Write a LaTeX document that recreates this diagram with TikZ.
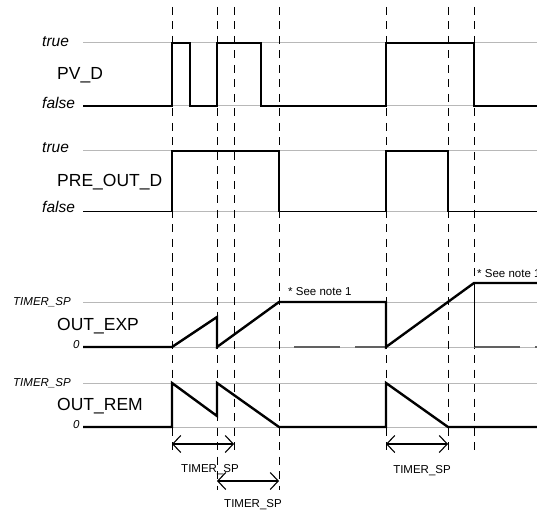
\documentclass[tikz,border=0pt]{standalone}
\usepackage{fontspec}
\setmainfont{Liberation Sans}
\usetikzlibrary{arrows.meta, positioning, calc}

\begin{document}
\begin{tikzpicture}[
    x=1pt, y=-1pt,
    level/.style={draw=black!28, line width=1pt},
    sig/.style={line width=2.4pt, line join=miter},
    thinsig/.style={line width=1.1pt},
    marker/.style={dash pattern=on 8pt off 6.5pt, line width=0.8pt},
    hold/.style={draw=black!62, line width=1.5pt, dash pattern=on 46pt off 15pt},
    state/.style={anchor=base west, inner sep=0pt, font=\itshape\fontsize{15.5}{16}\selectfont},
    limit/.style={anchor=base west, inner sep=0pt, font=\itshape\fontsize{11.5}{12}\selectfont},
    signame/.style={anchor=base west, inner sep=0pt, font=\fontsize{17.5}{18}\selectfont},
    span/.style={{Straight Barb[length=8pt,width=17pt]}-{Straight Barb[length=8pt,width=17pt]}, line width=1.1pt},
    spanlabel/.style={anchor=base, inner sep=0pt, font=\fontsize{11.5}{12}\selectfont},
    note/.style={anchor=base west, inner sep=0pt, font=\fontsize{11.5}{12}\selectfont}
]
    \useasboundingbox (0,0) rectangle (537,510);

    % level lines
    \foreach \y in {43,106,151,212,302,347,383,427}
        \draw[level] (83,\y) -- (537,\y);

    % time markers
    \foreach \x/\b in {172/453, 217/490, 234/453, 279/490, 386/453, 448/453, 474/453}
        \draw[marker] (\x,7) -- (\x,\b);

    % signal names and levels
    \node[state] (pvtrue) at (42,47) {true};
    \node[signame] (pvd) at (57,80) {PV\_D};
    \node[state] (pvfalse) at (42,109) {false};

    \node[state] (pretrue) at (42,153) {true};
    \node[signame] (preout) at (57,187) {PRE\_OUT\_D};
    \node[state] (prefalse) at (42,213) {false};

    \node[limit] (exptop) at (13,305) {TIMER\_SP};
    \node[signame] (outexp) at (57,330) {OUT\_EXP};
    \node[limit] (expzero) at (73,348) {0};

    \node[limit] (remtop) at (13,386) {TIMER\_SP};
    \node[signame] (outrem) at (57,410) {OUT\_REM};
    \node[limit] (remzero) at (73,428) {0};

    % PV_D
    \draw[sig] (83,106) -- (172,106) -- (172,43) -- (190,43) -- (190,106)
        -- (217,106) -- (217,43) -- (261,43) -- (261,106) -- (386,106)
        -- (386,43) -- (474,43) -- (474,106) -- (537,106);

    % PRE_OUT_D
    \draw[thinsig] (83,211.5) -- (172,211.5);
    \draw[sig] (172,212) -- (172,151) -- (279,151) -- (279,212);
    \draw[thinsig] (279,211.5) -- (386,211.5);
    \draw[sig] (386,212) -- (386,151) -- (448,151) -- (448,212);
    \draw[thinsig] (448,211.5) -- (537,211.5);

    % OUT_EXP
    \draw[hold, dash phase=46pt] (279,347) -- (386,347);
    \draw[hold] (474,347) -- (537,347);
    \draw[line width=0.8pt] (474,283) -- (474,347);
    \draw[sig] (83,347) -- (172,347) -- (217,317) -- (217,347) -- (279,302)
        -- (386,302) -- (386,347) -- (474,283) -- (537,283);
    \node[note] (note1) at (288,295) {* See note 1};
    \node[note] (note2) at (477,277) {* See note 1};

    % OUT_REM
    \draw[sig] (83,427) -- (172,427) -- (172,383) -- (217,416) -- (217,383)
        -- (279,427) -- (386,427) -- (386,383) -- (448,427) -- (537,427);

    % timer spans
    \coordinate (s1a) at (172,444);
    \coordinate (s1b) at (234,444);
    \coordinate (s2a) at (217,481);
    \coordinate (s2b) at (279,481);
    \coordinate (s3a) at (386,444);
    \coordinate (s3b) at (448,444);
    \draw[span] (s1a) -- (s1b);
    \draw[span] (s2a) -- (s2b);
    \draw[span] (s3a) -- (s3b);
    \node[spanlabel] (sp1) at (210,472) {TIMER\_SP};
    \node[spanlabel] (sp2) at (253,507) {TIMER\_SP};
    \node[spanlabel] (sp3) at (422,473) {TIMER\_SP};
\end{tikzpicture}
\end{document}
